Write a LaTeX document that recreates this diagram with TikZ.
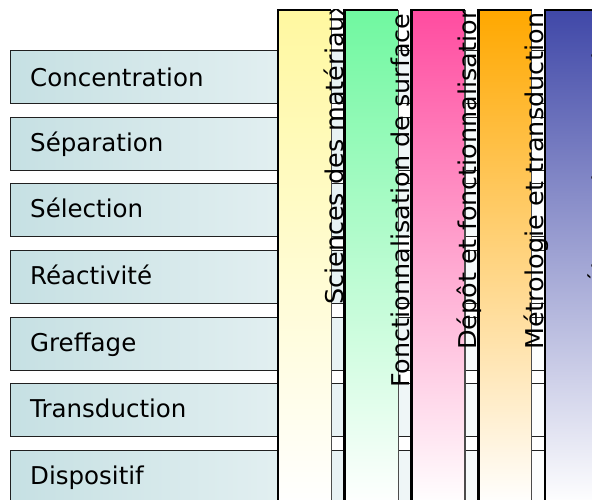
\documentclass[tikz,border=0pt]{standalone}
\usepackage{fontspec}
\setmainfont{DejaVu Sans}
\usepackage{graphicx}

\definecolor{rowshade}{HTML}{C6E0E3}
\definecolor{rowline}{HTML}{202020}
\definecolor{colYellow}{HTML}{FFF8A0}
\definecolor{colGreen}{HTML}{70F8A0}
\definecolor{colPink}{HTML}{FF4CA0}
\definecolor{colOrange}{HTML}{FFA800}
\definecolor{colBlue}{HTML}{4048A8}

\newcommand{\bigtxt}{\fontsize{24.5}{28}\selectfont}

\begin{document}
\begin{tikzpicture}[x=1pt,y=-1pt,
  rowbox/.style={draw=rowline, line width=1.4pt, left color=rowshade, right color=white,
    minimum width=550pt, minimum height=53pt, anchor=north west, inner sep=0pt},
  rowlabel/.style={anchor=base west, inner sep=0pt, font=\bigtxt},
  colbox/.style={top color=#1, middle color=#1!35!white, bottom color=white,
    minimum width=53pt, minimum height=495pt, anchor=north west, inner sep=0pt},
  colleft/.style={line width=2.6pt, black},
  colright/.style={line width=1.3pt, black!70},
  collabel/.style={anchor=base west, rotate=90, inner sep=0pt, font=\bigtxt},
]
\path[use as bounding box] (0,0) rectangle (592,499);
\clip (0,0) rectangle (592,499);

% function rows, running behind the columns
\node[rowbox] (box1) at (10,50)  {};
\node[rowbox] (box2) at (10,117) {};
\node[rowbox] (box3) at (10,183) {};
\node[rowbox] (box4) at (10,250) {};
\node[rowbox] (box5) at (10,317) {};
\node[rowbox] (box6) at (10,383) {};
\node[rowbox] (box7) at (10,450) {};

\node[rowlabel] (lab1) at (30,86)  {Concentration};
\node[rowlabel] (lab2) at (30,151) {Séparation};
\node[rowlabel] (lab3) at (30,217) {Sélection};
\node[rowlabel] (lab4) at (30,284) {Réactivité};
\node[rowlabel] (lab5) at (30,351) {Greffage};
\node[rowlabel] (lab6) at (30,417) {Transduction};
\node[rowlabel] (lab7) at (30,484) {Dispositif};

% coloured discipline columns
\node[colbox=colYellow] (col1) at (278,10)    {};
\node[colbox=colGreen]  (col2) at (344.75,10) {};
\node[colbox=colPink]   (col3) at (411.5,10)  {};
\node[colbox=colOrange] (col4) at (478.25,10) {};
\node[colbox=colBlue]   (col5) at (545,10)    {};

\foreach \c in {col1,col2,col3,col4,col5}{
  \draw[colright] (\c.north east) -- (\c.south east);
  \draw[colleft] (\c.south west) -- (\c.north west) -- (\c.north east);
}

% vertical discipline titles
\begin{scope}
\clip (0,9) rectangle (592,499);
\node[collabel] (t1) at (343,305)    {\scalebox{1.04}[1]{Sciences des matériaux}};
\node[collabel] (t2) at (409.75,388) {\scalebox{1.04}[1]{Fonctionnalisation de surface}};
\node[collabel] (t3) at (476.5,350)  {\scalebox{1.04}[1]{Dépôt et fonctionnalisation}};
\node[collabel] (t4) at (543.25,350) {\scalebox{1.04}[1]{Métrologie et transduction}};
\node[collabel] (t5) at (610,286)    {\scalebox{1.04}[1]{Électronique et microsystèmes}};
\end{scope}
\end{tikzpicture}
\end{document}
